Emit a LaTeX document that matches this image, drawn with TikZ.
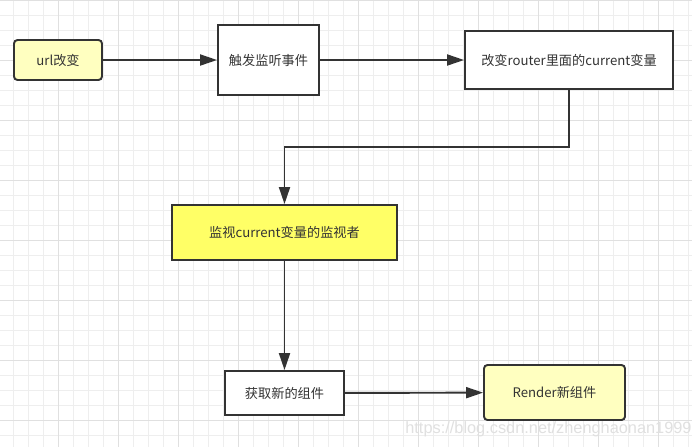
\documentclass[tikz,border=0pt]{standalone}
\usepackage{fontspec}
\setmainfont{Noto Sans CJK SC}
\newfontfamily\markfont{Liberation Sans}
\usetikzlibrary{arrows.meta}
\definecolor{edgegray}{HTML}{333333}
\definecolor{paleyellow}{HTML}{FFFFC0}
\definecolor{brightyellow}{HTML}{FFFF66}
\definecolor{gridminor}{HTML}{EEEEEE}
\definecolor{gridmajor}{HTML}{E0E0E0}
\tikzset{
  flowbox/.style={draw=edgegray, line width=1.1pt, text=edgegray,
    font=\fontsize{7.5}{9}\selectfont, minimum width=#1, inner sep=0pt},
  flowline/.style={draw=edgegray, line width=1.1pt,
    -{Triangle[length=0.34cm, width=0.22cm]}},
}
\begin{document}
\begin{tikzpicture}
            \useasboundingbox (0,0) rectangle (13.84,-8.94);
            \fill[white] (0,0) rectangle (13.84,-8.94);
            % Grid
            \foreach \k in {0,...,46} {
                \draw[gridminor, line width=0.5pt] ({0.266+0.3*\k},0) -- ({0.266+0.3*\k},-8.94);
            }
            \foreach \k in {0,...,29} {
                \draw[gridminor, line width=0.5pt] (0,{-0.3*\k}) -- (13.84,{-0.3*\k});
            }
            \foreach \k in {0,...,11} {
                \draw[gridmajor, line width=0.5pt] ({1.166+1.2*\k},0) -- ({1.166+1.2*\k},-8.94);
            }
            \foreach \k in {0,...,7} {
                \draw[gridmajor, line width=0.5pt] (0,{-1.2*\k}) -- (13.84,{-1.2*\k});
            }
            % Boxes
            \node[flowbox=1.76cm, minimum height=0.8cm, rounded corners=2pt, fill=paleyellow] (urlchange) at (1.16,-1.2) {url改变};
            \node[flowbox=2.02cm, minimum height=1.4cm, fill=white] (trigger) at (5.37,-1.2) {触发监听事件};
            \node[flowbox=4.16cm, minimum height=1.16cm, fill=white] (router) at (11.38,-1.2) {改变router里面的current变量};
            \node[flowbox=4.5cm, minimum height=1.1cm, fill=brightyellow] (watcher) at (5.69,-4.65) {监视current变量的监视者};
            \node[flowbox=2.38cm, minimum height=0.88cm, fill=white] (fetch) at (5.69,-7.86) {获取新的组件};
            \node[flowbox=2.82cm, minimum height=1.1cm, rounded corners=2pt, fill=paleyellow] (render) at (11.09,-7.85) {Render新组件};
            % Connectors
            \coordinate (bendright) at (router.south |- 0,-2.94);
            \coordinate (bendleft) at (watcher.north |- 0,-2.94);
            \draw[flowline] (urlchange) -- (trigger);
            \draw[flowline] (trigger) -- (router);
            \draw[flowline] (router.south) -- (bendright) -- (bendleft) -- (watcher.north);
            \draw[flowline] (watcher) -- (fetch);
            \draw[flowline] (fetch) -- (render);
            % Watermark
            \node[anchor=west, text=gridmajor, font=\markfont\fontsize{9.3}{11}\selectfont, inner sep=0pt] (mark) at (8.1,-8.58) {https://blog.csdn.net/zhenghaonan1999};
        \end{tikzpicture}
\end{document}
